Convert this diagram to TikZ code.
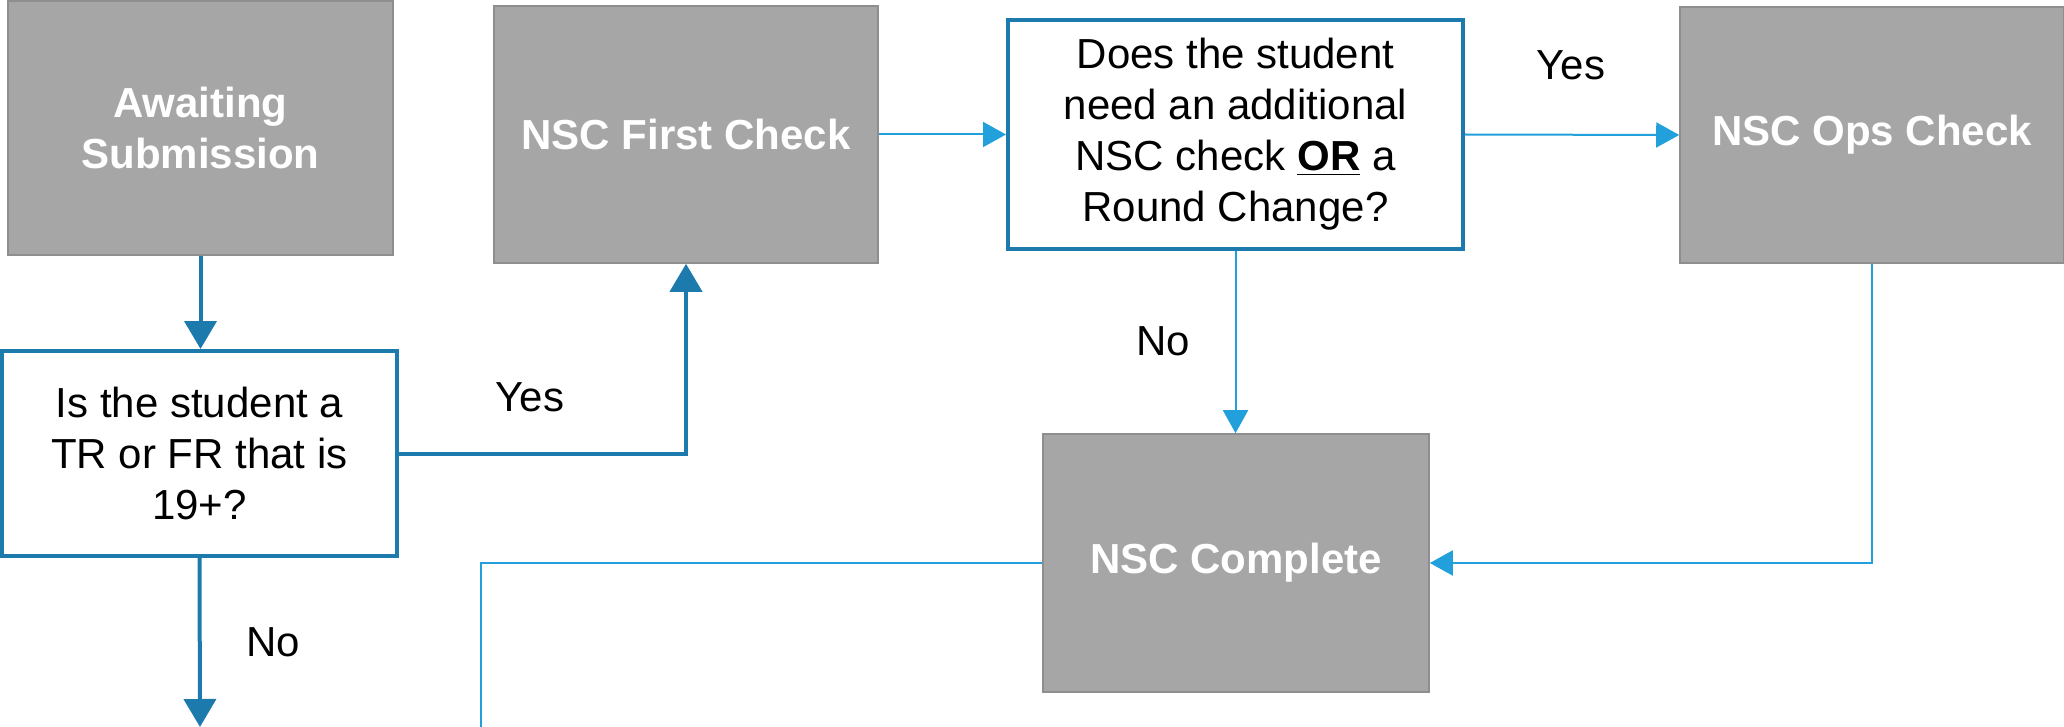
\documentclass[tikz,border=0pt]{standalone}
\usepackage{fontspec}
\setmainfont{Liberation Sans}
\usetikzlibrary{arrows.meta}
\definecolor{boxgray}{HTML}{A6A6A6}
\definecolor{boxedge}{HTML}{8E8E8E}
\definecolor{darkblue}{HTML}{1C7AAD}
\definecolor{lightblue}{HTML}{22A0DC}
\begin{document}
\begin{tikzpicture}[x=0.5pt,y=-0.5pt,
  graybox/.style={draw=boxedge, line width=0.8pt, fill=boxgray, text=white,
    font=\fontsize{21}{25.5}\selectfont\bfseries, align=center, inner sep=0pt},
  decbox/.style={draw=darkblue, line width=2pt, fill=white, text=black,
    font=\fontsize{21}{25.5}\selectfont, align=center, inner sep=0pt},
  lbl/.style={font=\fontsize{21}{25.5}\selectfont, text=black, inner sep=0pt},
  thickarr/.style={draw=darkblue, line width=2pt, -{Triangle[length=14pt,width=16pt]}},
  thinarr/.style={draw=lightblue, line width=1pt, -{Triangle[length=11.5pt,width=12.5pt]}},
  thinline/.style={draw=lightblue, line width=1pt}
]
\useasboundingbox (0,0) rectangle (2064,727);
\node[graybox, minimum width=192.5pt, minimum height=127pt] (aw) at (200.5,128) {Awaiting\\Submission};
\node[graybox, minimum width=192pt, minimum height=128.5pt] (fc) at (686,134.5) {NSC First Check};
\node[decbox, minimum width=227.5pt, minimum height=114.5pt] (d2) at (1235.5,134.5) {Does the student\\need an additional\\NSC check \underline{\textbf{OR}} a\\Round Change?};
\node[graybox, minimum width=192pt, minimum height=128pt] (ops) at (1872,135) {NSC Ops Check};
\node[decbox, minimum width=197.5pt, minimum height=102.5pt] (d1) at (199.5,453.5) {Is the student a\\TR or FR that is\\19+?};
\node[graybox, minimum width=193pt, minimum height=129pt] (comp) at (1236,563) {NSC Complete};

\node[lbl] (yes1) at (530,397) {Yes};
\node[lbl] (no1) at (273,642) {No};
\node[lbl] (yes2) at (1571,65) {Yes};
\node[lbl] (no2) at (1163,341) {No};

\coordinate (d1end) at (200,727);
\coordinate (compend) at (481,727);

\draw[thickarr] (aw.south) -- (aw.south |- d1.north);
\draw[thickarr] (d1.east) -| (fc.south);
\draw[thickarr] (d1.south) -- (d1end);
\draw[thinarr] (fc.east) -- (d2.west);
\draw[thinarr] (d2.east) -- (ops.west);
\draw[thinarr] (d2.south) -- (d2.south |- comp.north);
\draw[thinarr] (ops.south) |- (comp.east);
\draw[thinline] (comp.west) -| (compend);
\end{tikzpicture}
\end{document}
